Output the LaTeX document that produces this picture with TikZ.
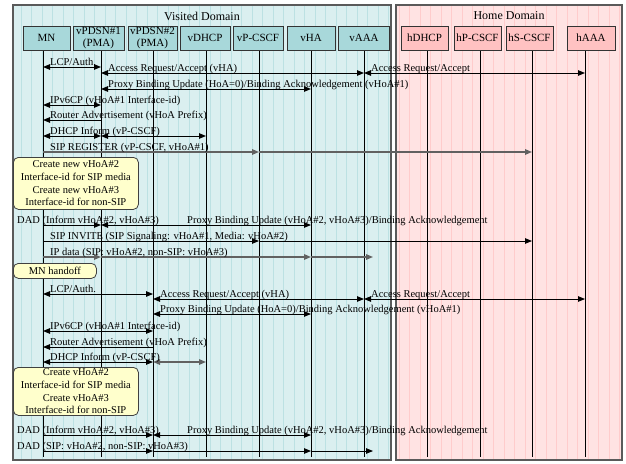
\documentclass[tikz,border=0pt]{standalone}
\usepackage{fontspec}
\setmainfont{Liberation Serif}
\usetikzlibrary{arrows.meta,calc}

\definecolor{visbg}{HTML}{DAEFF0}
\definecolor{visgrid}{HTML}{BCE1E3}
\definecolor{homebg}{HTML}{FFE3E3}
\definecolor{homegrid}{HTML}{FFCCCC}
\definecolor{visbox}{HTML}{A8D8DA}
\definecolor{homebox}{HTML}{FFC2C2}
\definecolor{notefill}{HTML}{FFFFCC}
\definecolor{framegray}{HTML}{5A5A5A}

\newcommand{\msgfont}{\fontsize{10.5}{12.6}\selectfont}

\tikzset{
	domainbox/.style={draw=framegray, line width=1.3pt},
	entity/.style={draw=black!80, line width=0.9pt, minimum height=24, inner sep=0pt, align=center, font=\fontsize{11}{11.5}\selectfont},
	lifeline/.style={line width=0.9pt},
	msg/.style={line width=0.9pt},
	graymsg/.style={line width=1.4pt, draw=black!62},
	msgtext/.style={anchor=base west, inner sep=0pt, font=\msgfont},
	notebox/.style={draw=black!75, fill=notefill, rounded corners=5pt, line width=0.8pt, align=center, inner sep=0pt, anchor=north west, font=\msgfont},
}

\begin{document}
\begin{tikzpicture}[x=1pt, y=-1pt, >={Triangle[length=7pt,width=5.5pt]}]
			%%%%% START %%%%%
			\useasboundingbox (0,0) rectangle (626,463);
			
			% domains
			\fill[visbg] (13,5) rectangle (391,460);
			\draw[visgrid, line width=0.7pt, step=10.5] (13,5) grid (391,460);
			\draw[domainbox] (13,5) rectangle (391,460);
			\fill[homebg] (396,5) rectangle (622,460);
			\draw[homegrid, line width=0.7pt, step=10.5] (396,5) grid (622,460);
			\draw[domainbox] (396,5) rectangle (622,460);
			
			\node[font=\fontsize{12}{14}\selectfont] (vtitle) at (202,16) {Visited Domain};
			\node[font=\fontsize{12}{14}\selectfont] (htitle) at (509,16) {Home Domain};
			
			% lifelines
			\coordinate (bottom) at (0,457);
			\coordinate (MN) at (43,50);
			\coordinate (P1) at (101,50);
			\coordinate (P2) at (153,50);
			\coordinate (vDHCP) at (206,50);
			\coordinate (vPCSCF) at (259,50);
			\coordinate (vHA) at (311,50);
			\coordinate (vAAA) at (364,50);
			\coordinate (hDHCP) at (427,50);
			\coordinate (hPCSCF) at (480,50);
			\coordinate (hSCSCF) at (532,50);
			\coordinate (hAAA) at (585,50);
			\coordinate (vend) at (373,50);
			
			\foreach \l in {MN,P1,P2,vDHCP,vPCSCF,vHA,vAAA,hDHCP,hPCSCF,hSCSCF,hAAA}
				\draw[lifeline] (\l) -- (\l |- bottom);
			
			% entities
			\node[entity, fill=visbox, minimum width=47] (eMN) at (46.5,38) {MN};
			\node[entity, fill=visbox, minimum width=51] (eP1) at (98.5,38) {vPDSN\#1\\(PMA)};
			\node[entity, fill=visbox, minimum width=49] (eP2) at (152.5,38) {vPDSN\#2\\(PMA)};
			\node[entity, fill=visbox, minimum width=50] (evDHCP) at (205,38) {vDHCP};
			\node[entity, fill=visbox, minimum width=50] (evPCSCF) at (258,38) {vP-CSCF};
			\node[entity, fill=visbox, minimum width=48] (evHA) at (311,38) {vHA};
			\node[entity, fill=visbox, minimum width=51] (evAAA) at (364,38) {vAAA};
			\node[entity, fill=homebox, minimum width=47] (ehDHCP) at (424.5,38) {hDHCP};
			\node[entity, fill=homebox, minimum width=47] (ehPCSCF) at (477.5,38) {hP-CSCF};
			\node[entity, fill=homebox, minimum width=47] (ehSCSCF) at (529.5,38) {hS-CSCF};
			\node[entity, fill=homebox, minimum width=48] (ehAAA) at (591,38) {hAAA};
			
			% rows
			\coordinate (r1) at (0,67);
			\coordinate (r2) at (0,73);
			\coordinate (r3) at (0,89);
			\coordinate (r4) at (0,105);
			\coordinate (r5) at (0,120);
			\coordinate (r6) at (0,136);
			\coordinate (r7) at (0,152);
			\coordinate (r8) at (0,225);
			\coordinate (r9) at (0,241);
			\coordinate (r10) at (0,257);
			\coordinate (r11) at (0,294);
			\coordinate (r12) at (0,299);
			\coordinate (r13) at (0,314);
			\coordinate (r14) at (0,331);
			\coordinate (r15) at (0,347);
			\coordinate (r16) at (0,362);
			\coordinate (r17) at (0,435);
			\coordinate (r18) at (0,451);
			
			% attach to vPDSN#1
			\draw[msg, <->] (MN |- r1) -- (P1 |- r1);
			\node[msgtext] (t1) at (50,65) {LCP/Auth.};
			\draw[msg, <->] (P1 |- r2) -- (vAAA |- r2);
			\node[msgtext] (t2) at (108,71) {Access Request/Accept (vHA)};
			\draw[msg, <->] (vAAA |- r2) -- (hAAA |- r2);
			\node[msgtext] (t2h) at (371,71) {Access Request/Accept};
			\draw[msg, <->] (P1 |- r3) -- (vHA |- r3);
			\node[msgtext] (t3) at (108,87) {Proxy Binding Update (HoA=0)/Binding Acknowledgement (vHoA\#1)};
			\draw[msg, <->] (MN |- r4) -- (P1 |- r4);
			\node[msgtext] (t4) at (50,103) {IPv6CP (vHoA\#1 Interface-id)};
			\draw[msg, ->] (P1 |- r5) -- (MN |- r5);
			\node[msgtext] (t5) at (50,118) {Router Advertisement (vHoA Prefix)};
			\draw[msg, <->] (MN |- r6) -- (P1 |- r6);
			\draw[msg, <->] (P1 |- r6) -- (vDHCP |- r6);
			\node[msgtext] (t6) at (50,134) {DHCP Inform (vP-CSCF)};
			\draw[graymsg, ->] (MN |- r7) -- (vPCSCF |- r7);
			\draw[graymsg, ->] (vPCSCF |- r7) -- (hSCSCF |- r7);
			\node[msgtext] (t7) at (50,150) {SIP REGISTER (vP-CSCF, vHoA\#1)};
			
			\node[notebox, minimum width=125, minimum height=52] (note1) at (13,157) {Create new vHoA\#2\\Interface-id for SIP media\\Create new vHoA\#3\\Interface-id for non-SIP};
			
			\draw[msg, ->] (MN |- r8) -- (P1 |- r8);
			\draw[msg, <->] (P1 |- r8) -- (vHA |- r8);
			\node[msgtext] (t8) at (17,223) {DAD (Inform vHoA\#2, vHoA\#3)};
			\node[msgtext] (t8b) at (187,223) {Proxy Binding Update (vHoA\#2, vHoA\#3)/Binding Acknowledgement};
			\draw[msg, ->] (MN |- r9) -- (vPCSCF |- r9);
			\draw[msg, ->] (vPCSCF |- r9) -- (hSCSCF |- r9);
			\node[msgtext] (t9) at (50,239) {SIP INVITE (SIP Signaling: vHoA\#1, Media: vHoA\#2)};
			\draw[graymsg, ->] (MN |- r10) -- (P1 |- r10);
			\draw[graymsg, ->] (P1 |- r10) -- (vHA |- r10);
			\draw[graymsg, ->] (vHA |- r10) -- (vend |- r10);
			\node[msgtext] (t10) at (50,255) {IP data (SIP: vHoA\#2, non-SIP: vHoA\#3)};
			
			\node[notebox, minimum width=83, minimum height=15] (handoff) at (13,263) {MN handoff};
			
			% attach to vPDSN#2
			\draw[msg, <->] (MN |- r11) -- (P2 |- r11);
			\node[msgtext] (t11) at (50,292) {LCP/Auth.};
			\draw[msg, <->] (P2 |- r12) -- (vAAA |- r12);
			\node[msgtext] (t12) at (160,297) {Access Request/Accept (vHA)};
			\draw[msg, <->] (vAAA |- r12) -- (hAAA |- r12);
			\node[msgtext] (t12h) at (371,297) {Access Request/Accept};
			\draw[msg, <->] (P2 |- r13) -- (vHA |- r13);
			\node[msgtext] (t13) at (160,312) {Proxy Binding Update (HoA=0)/Binding Acknowledgement (vHoA\#1)};
			\draw[msg, <->] (MN |- r14) -- (P2 |- r14);
			\node[msgtext] (t14) at (50,329) {IPv6CP (vHoA\#1 Interface-id)};
			\draw[msg, ->] (P2 |- r15) -- (MN |- r15);
			\node[msgtext] (t15) at (50,345) {Router Advertisement (vHoA Prefix)};
			\draw[msg, <->] (MN |- r16) -- (P2 |- r16);
			\draw[graymsg, <->] (P2 |- r16) -- (vDHCP |- r16);
			\node[msgtext] (t16) at (50,360) {DHCP Inform (vP-CSCF)};
			
			\node[notebox, minimum width=125, minimum height=48] (note2) at (13,367) {Create vHoA\#2\\Interface-id for SIP media\\Create vHoA\#3\\Interface-id for non-SIP};
			
			\draw[msg, ->] (MN |- r17) -- (P2 |- r17);
			\draw[msg, <->] (P2 |- r17) -- (vHA |- r17);
			\node[msgtext] (t17) at (17,433) {DAD (Inform vHoA\#2, vHoA\#3)};
			\node[msgtext] (t17b) at (187,433) {Proxy Binding Update (vHoA\#2, vHoA\#3)/Binding Acknowledgement};
			\draw[msg, ->] (MN |- r18) -- (P2 |- r18);
			\draw[msg, ->] (P2 |- r18) -- (vHA |- r18);
			\draw[msg, ->] (vHA |- r18) -- (vend |- r18);
			\node[msgtext] (t18) at (17,449) {DAD (SIP: vHoA\#2, non-SIP: vHoA\#3)};
			
			%%%%% END %%%%%
\end{tikzpicture}
\end{document}
